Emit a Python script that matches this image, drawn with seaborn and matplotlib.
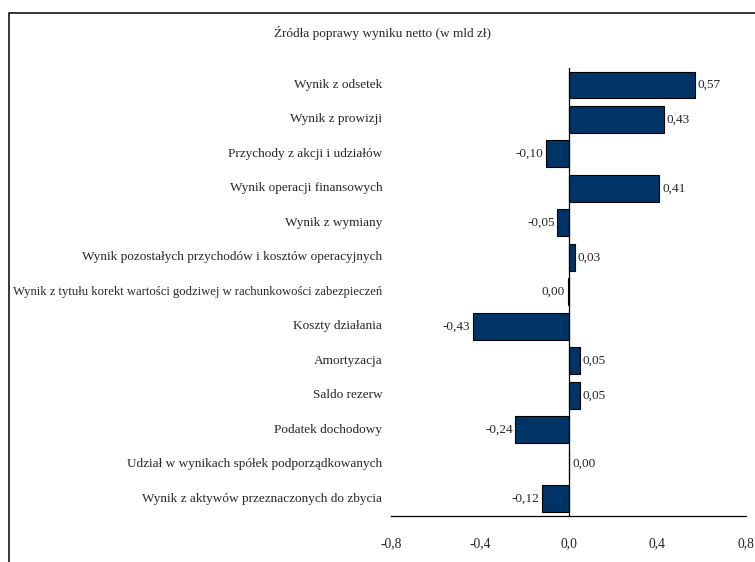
import matplotlib
matplotlib.use('Agg')
import matplotlib.pyplot as plt
import matplotlib.transforms as mtransforms
from matplotlib.patches import Rectangle
import numpy as np
import pandas as pd
import seaborn as sns

# Dane (w mld zł)
categories = [
    'Wynik z odsetek',
    'Wynik z prowizji',
    'Przychody z akcji i udziałów',
    'Wynik operacji finansowych',
    'Wynik z wymiany',
    'Wynik pozostałych przychodów i kosztów operacyjnych',
    'Wynik z tytułu korekt wartości godziwej w rachunkowości zabezpieczeń',
    'Koszty działania',
    'Amortyzacja',
    'Saldo rezerw',
    'Podatek dochodowy',
    'Udział w wynikach spółek podporządkowanych',
    'Wynik z aktywów przeznaczonych do zbycia',
]
values = [0.57, 0.43, -0.10, 0.41, -0.05, 0.03, -0.003, -0.43, 0.05, 0.05, -0.24, 0.004, -0.12]
xticks = [-0.8, -0.4, 0.0, 0.4, 0.8]
title = 'Źródła poprawy wyniku netto (w mld zł)'

df = pd.DataFrame({'kategoria': categories, 'wartosc': values})

sns.set_style('white')
plt.rcParams['font.family'] = ['Liberation Serif', 'DejaVu Serif']

fig = plt.figure(figsize=(7.55, 5.62), dpi=100)
ax = fig.add_axes([0.518, 0.082, 0.47, 0.7975])

sns.barplot(data=df, x='wartosc', y='kategoria', orient='h', color='#003366',
            saturation=1, edgecolor='black', linewidth=0.8, width=0.78, ax=ax)

ax.set_xlim(-0.8, 0.8)
ax.set_ylim(len(categories) - 0.5, -0.5)
ax.set_xticks(xticks)
ax.set_xticklabels([f'{t:.1f}'.replace('.', ',') for t in xticks], fontsize=9.8)
ax.set_xlabel('')
ax.set_ylabel('')

# oś pionowa w zerze
for s in ['top', 'right']:
    ax.spines[s].set_visible(False)
ax.spines['left'].set_position(('data', 0))
for s in ['left', 'bottom']:
    ax.spines[s].set_linewidth(0.9)
    ax.spines[s].set_color('black')

ax.set_yticks(range(len(categories)))
ax.set_yticklabels([''] * len(categories))
ax.set_yticks(np.arange(-0.5, len(categories), 1), minor=True)
ax.tick_params(axis='y', which='major', length=0)
ax.tick_params(axis='y', which='minor', length=4, width=0.9, direction='out', color='black')
ax.tick_params(axis='x', length=4, width=0.9, direction='out', color='black', pad=11)

# etykiety kategorii
trans = mtransforms.blended_transform_factory(ax.transAxes, ax.transData)
labels = []
for i, cat in enumerate(categories):
    labels.append(ax.text(-0.025, i, cat, transform=trans, ha='right', va='center', fontsize=9.5))

# zbyt długie etykiety - zmniejszamy czcionkę, żeby zmieściły się w ramce
fig.canvas.draw()
renderer = fig.canvas.get_renderer()
for t in labels:
    bb = t.get_window_extent(renderer)
    right = bb.x1
    avail = right - 12
    if bb.width > avail:
        t.set_fontsize(t.get_fontsize() * avail / bb.width)

# etykiety wartości
for i, v in enumerate(values):
    txt = f'{round(v, 2) + 0.0:.2f}'.replace('.', ',')
    if v >= 0:
        ax.text(v + 0.012, i, txt, ha='left', va='center', fontsize=9.5)
    else:
        ax.text(v - 0.012, i, txt, ha='right', va='center', fontsize=9.5)

fig.text(0.507, 1 - 33 / 562, title, ha='center', va='center', fontsize=9.5)

# ramka wykresu
fig.patches.append(Rectangle((9 / 755, -0.1), 1.2, 1 - 13 / 562 + 0.1, fill=False,
                             edgecolor='black', linewidth=1.1, transform=fig.transFigure))

fig.savefig('out.png', dpi=100)
